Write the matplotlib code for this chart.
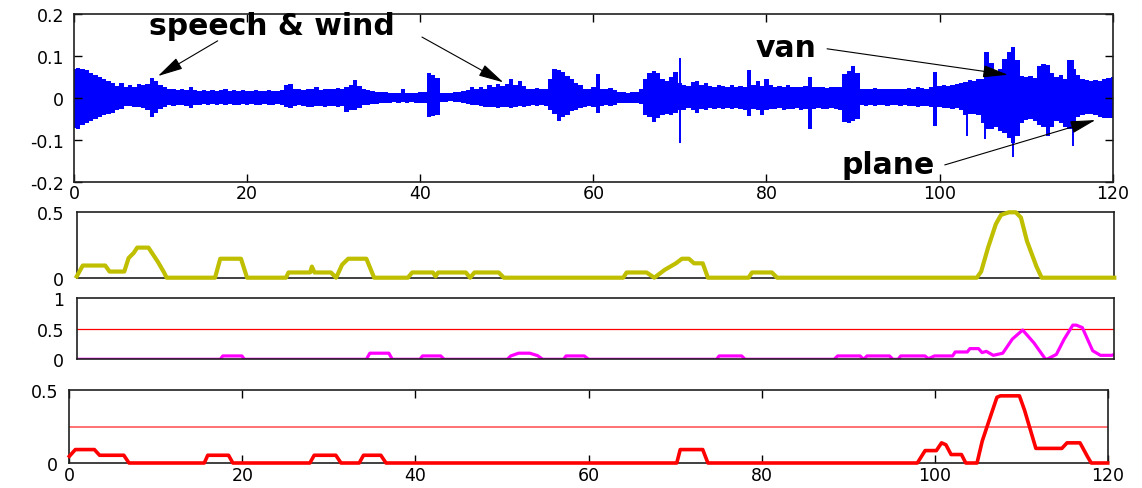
import numpy as np
import matplotlib
matplotlib.use("Agg")
import matplotlib.pyplot as plt

plt.rcParams['font.family'] = ['DejaVu Sans']
plt.rcParams['axes.unicode_minus'] = False

# ---------------- data ----------------
t_step = 0.5  # waveform envelope sampled every 0.5 s (0 .. 120)
wave_upper = [
    0.070, 0.072, 0.068, 0.066, 0.060, 0.055, 0.050, 0.045, 0.040, 0.035,
    0.028, 0.036, 0.025, 0.030, 0.027, 0.032, 0.030, 0.034, 0.048, 0.040,
    0.030, 0.025, 0.020, 0.022, 0.018, 0.020, 0.019, 0.027, 0.018, 0.017,
    0.018, 0.016, 0.019, 0.017, 0.018, 0.020, 0.016, 0.018, 0.017, 0.019,
    0.017, 0.016, 0.018, 0.017, 0.016, 0.018, 0.017, 0.016, 0.018, 0.030,
    0.033, 0.022, 0.020, 0.018, 0.022, 0.020, 0.025, 0.018, 0.020, 0.022,
    0.020, 0.024, 0.021, 0.026, 0.030, 0.042, 0.028, 0.022, 0.018, 0.016,
    0.015, 0.014, 0.013, 0.012, 0.011, 0.012, 0.020, 0.012, 0.011, 0.012,
    0.013, 0.014, 0.060, 0.055, 0.048, 0.012, 0.011, 0.012, 0.013, 0.014,
    0.016, 0.018, 0.026, 0.020, 0.027, 0.022, 0.030, 0.025, 0.033, 0.028,
    0.034, 0.046, 0.030, 0.040, 0.028, 0.022, 0.020, 0.024, 0.020, 0.022,
    0.045, 0.068, 0.066, 0.062, 0.052, 0.045, 0.035, 0.030, 0.022, 0.020,
    0.025, 0.056, 0.022, 0.020, 0.024, 0.018, 0.014, 0.013, 0.012, 0.013,
    0.014, 0.020, 0.045, 0.060, 0.064, 0.060, 0.045, 0.040, 0.050, 0.062,
    0.035, 0.030, 0.028, 0.037, 0.040, 0.030, 0.036, 0.028, 0.025, 0.030,
    0.028, 0.026, 0.030, 0.025, 0.028, 0.026, 0.067, 0.030, 0.040, 0.028,
    0.045, 0.030, 0.025, 0.028, 0.026, 0.030, 0.027, 0.026, 0.025, 0.028,
    0.049, 0.027, 0.025, 0.026, 0.024, 0.025, 0.027, 0.026, 0.058, 0.064,
    0.076, 0.060, 0.022, 0.021, 0.020, 0.024, 0.021, 0.020, 0.022, 0.021,
    0.020, 0.022, 0.021, 0.024, 0.022, 0.025, 0.023, 0.022, 0.026, 0.062,
    0.028, 0.030, 0.029, 0.030, 0.032, 0.035, 0.038, 0.042, 0.041, 0.044,
    0.045, 0.110, 0.084, 0.060, 0.070, 0.092, 0.110, 0.122, 0.090, 0.052,
    0.050, 0.051, 0.048, 0.075, 0.080, 0.078, 0.060, 0.050, 0.055, 0.045,
    0.090, 0.070, 0.055, 0.045, 0.042, 0.040, 0.043, 0.041, 0.045, 0.047,
    0.050,
]
wave_lower = [
    -0.071, -0.075, -0.065, -0.060, -0.055, -0.050, -0.045, -0.042, -0.038, -0.035,
    -0.030, -0.026, -0.020, -0.019, -0.021, -0.023, -0.024, -0.028, -0.045, -0.035,
    -0.027, -0.022, -0.018, -0.019, -0.018, -0.017, -0.019, -0.024, -0.017, -0.016,
    -0.015, -0.016, -0.015, -0.017, -0.015, -0.016, -0.015, -0.017, -0.016, -0.015,
    -0.016, -0.015, -0.017, -0.016, -0.015, -0.016, -0.017, -0.015, -0.016, -0.023,
    -0.025, -0.020, -0.018, -0.019, -0.022, -0.021, -0.019, -0.020, -0.022, -0.019,
    -0.020, -0.022, -0.020, -0.033, -0.030, -0.028, -0.024, -0.018, -0.016, -0.015,
    -0.014, -0.013, -0.012, -0.012, -0.011, -0.012, -0.011, -0.012, -0.011, -0.012,
    -0.012, -0.013, -0.045, -0.044, -0.040, -0.010, -0.009, -0.008, -0.010, -0.011,
    -0.012, -0.014, -0.016, -0.018, -0.020, -0.022, -0.023, -0.021, -0.024, -0.022,
    -0.023, -0.025, -0.022, -0.020, -0.021, -0.019, -0.018, -0.020, -0.018, -0.020,
    -0.030, -0.039, -0.055, -0.045, -0.040, -0.032, -0.028, -0.025, -0.022, -0.020,
    -0.022, -0.035, -0.020, -0.018, -0.020, -0.016, -0.013, -0.012, -0.013, -0.012,
    -0.013, -0.015, -0.040, -0.045, -0.057, -0.048, -0.042, -0.038, -0.040, -0.035,
    -0.030, -0.028, -0.025, -0.030, -0.035, -0.026, -0.028, -0.025, -0.027, -0.024,
    -0.026, -0.025, -0.027, -0.024, -0.026, -0.028, -0.043, -0.027, -0.030, -0.040,
    -0.028, -0.026, -0.027, -0.025, -0.028, -0.026, -0.027, -0.025, -0.028, -0.026,
    -0.075, -0.027, -0.025, -0.026, -0.027, -0.025, -0.026, -0.028, -0.058, -0.060,
    -0.055, -0.050, -0.018, -0.019, -0.018, -0.020, -0.018, -0.017, -0.019, -0.018,
    -0.018, -0.019, -0.018, -0.020, -0.019, -0.021, -0.020, -0.019, -0.022, -0.067,
    -0.023, -0.025, -0.024, -0.026, -0.025, -0.030, -0.040, -0.038, -0.039, -0.042,
    -0.060, -0.075, -0.075, -0.070, -0.080, -0.083, -0.095, -0.107, -0.090, -0.060,
    -0.052, -0.050, -0.055, -0.065, -0.070, -0.090, -0.070, -0.055, -0.060, -0.070,
    -0.075, -0.065, -0.045, -0.040, -0.038, -0.039, -0.042, -0.045, -0.047, -0.048,
    -0.048,
]
# isolated spikes in the waveform: time, min, max
spike_t = [70.0, 108.5, 103.2, 115.4, 85.2, 99.4, 105.3]
spike_lo = [-0.107, -0.142, -0.090, -0.115, -0.075, -0.067, -0.098]
spike_hi = [0.094, 0.122, 0.030, 0.090, 0.049, 0.062, 0.110]

wave_yticks = [-0.2, -0.1, 0, 0.1, 0.2]
wave_yticklabels = ['-0.2', '-0.1', '0', '0.1', '0.2']
x_ticks = [0, 20, 40, 60, 80, 100, 120]
x_ticklabels = ['0', '20', '40', '60', '80', '100', '120']

yel_x = [0, 0.7, 3.3, 3.8, 5.5, 6.0, 6.6, 7.0, 8.3, 8.8, 9.4, 10.1, 10.4, 16.0, 16.6, 19.0, 19.7,
         24.2, 24.5, 27.0, 27.2, 27.5, 29.4, 30.0, 30.7, 31.4, 33.5, 34.4, 38.3, 38.8, 41.2, 41.5,
         41.8, 45.0, 45.5, 46.0, 48.8, 49.4, 63.2, 63.6, 65.9, 66.8, 67.2, 68.0, 69.3, 70.0, 70.8,
         71.4, 72.4, 73.0, 77.7, 78.1, 80.4, 81.0, 104.1, 104.6, 105.4, 106.3, 106.9, 107.8, 108.6,
         109.2, 109.9, 111.0, 111.6, 120]
yel_y = [0.01, 0.093, 0.093, 0.047, 0.047, 0.15, 0.19, 0.23, 0.23, 0.18, 0.12, 0.04, 0, 0, 0.145, 0.145, 0,
         0, 0.04, 0.04, 0.085, 0.04, 0.04, 0, 0.10, 0.145, 0.145, 0, 0, 0.04, 0.04, 0.01,
         0.04, 0.04, 0, 0.04, 0.04, 0, 0, 0.04, 0.04, 0, 0.02, 0.06, 0.11, 0.145, 0.145,
         0.11, 0.11, 0, 0, 0.04, 0.04, 0, 0, 0.047, 0.23, 0.41, 0.48, 0.50, 0.50,
         0.46, 0.28, 0.085, 0, 0]

mag_x = [0, 16.6, 16.9, 19.1, 19.4, 33.5, 33.9, 36.1, 36.5, 39.7, 40.0, 42.1, 42.5, 49.8, 50.2, 51.1,
         52.4, 53.3, 53.9, 56.3, 56.6, 58.7, 59.2, 74.0, 74.3, 76.9, 77.3, 87.6, 88.0, 90.6, 91.0,
         91.4, 94.0, 94.4, 95.0, 95.3, 98.1, 98.5, 99.2, 101.3, 101.6, 103.0, 103.3, 104.3, 104.7,
         105.2, 106.0, 107.1, 108.2, 109.4, 110.7, 112.0, 112.2, 113.3, 114.2, 115.2, 115.6, 116.3,
         117.5, 118.4, 119.7, 120]
mag_y = [0, 0, 0.055, 0.055, 0, 0, 0.10, 0.10, 0, 0, 0.055, 0.055, 0, 0, 0.055, 0.10,
         0.10, 0.06, 0, 0, 0.055, 0.055, 0, 0, 0.055, 0.055, 0, 0, 0.055, 0.055, 0,
         0.055, 0.055, 0, 0, 0.055, 0.055, 0.01, 0.055, 0.055, 0.12, 0.12, 0.175, 0.175, 0.11,
         0.13, 0.065, 0.10, 0.33, 0.48, 0.27, 0.01, 0.0, 0.08, 0.33, 0.56, 0.56, 0.52,
         0.14, 0.065, 0.065, 0.08]
mag_threshold = 0.5

red_x = [0, 0.7, 2.9, 3.5, 6.3, 6.9, 15.6, 16.0, 18.4, 18.9, 27.8, 28.3, 30.8, 31.4, 33.5, 34.0,
         36.0, 36.6, 70.2, 70.6, 73.2, 73.8, 98.0, 98.9, 100.2, 100.8, 101.3, 101.9, 103.1, 103.6,
         104.9, 105.5, 106.4, 107.2, 107.6, 109.8, 110.4, 111.1, 111.7, 114.7, 115.3, 116.8, 117.7,
         118.1, 120]
red_y = [0.046, 0.092, 0.092, 0.053, 0.053, 0, 0, 0.053, 0.053, 0, 0, 0.053, 0.053, 0, 0, 0.053,
         0.053, 0, 0, 0.092, 0.092, 0, 0, 0.085, 0.085, 0.138, 0.125, 0.058, 0.058, 0,
         0, 0.15, 0.31, 0.45, 0.46, 0.46, 0.36, 0.22, 0.10, 0.10, 0.138, 0.138, 0.04,
         0, 0]
red_threshold = 0.25

annotations = [
    # text, text position, arrow start, arrow tip
    ('speech & wind', (22.9, 0.172), (16.6, 0.136), (9.7, 0.052)),
    ('', None, (40.2, 0.145), (49.6, 0.037)),
    ('van', (82.3, 0.119), (87.0, 0.117), (107.9, 0.055)),
    ('plane', (94.0, -0.160), (100.6, -0.160), (118.0, -0.053)),
]

# ---------------- figure ----------------
W, H = 1142, 489
fig = plt.figure(figsize=(W / 100, H / 100), dpi=100)


def box(l, t, r, b):
    return [l / W, 1 - b / H, (r - l) / W, (b - t) / H]


ax1 = fig.add_axes(box(74, 15, 1112.7, 182.7))
ax2 = fig.add_axes(box(76.7, 213.3, 1114.3, 278.7))
ax3 = fig.add_axes(box(76.7, 299.3, 1114.3, 360.3))
ax4 = fig.add_axes(box(69.3, 391, 1107.7, 464))

tick_font = 12.5

for ax in (ax1, ax2, ax3, ax4):
    ax.set_xlim(0, 120)
    for s in ax.spines.values():
        s.set_linewidth(1.2)
        s.set_color('#202020')

# panel 1 : waveform
t = np.arange(len(wave_upper)) * t_step
ax1.fill_between(t, wave_lower, wave_upper, step='mid', color='#0000ff', lw=0)
ax1.vlines(spike_t, spike_lo, spike_hi, color='#0000ff', lw=1.4)
ax1.set_ylim(-0.2, 0.2)
ax1.set_yticks(wave_yticks)
ax1.set_yticklabels(wave_yticklabels)
ax1.set_xticks(x_ticks)
ax1.set_xticklabels(x_ticklabels)
ax1.tick_params(direction='in', length=6, width=1, top=True, right=True,
                labelsize=tick_font, pad=2)
ax1.tick_params(axis='y', pad=7)

for txt, tpos, start, tip in annotations:
    if txt:
        ax1.text(tpos[0], tpos[1], txt, fontsize=21.5, fontweight='bold',
                 ha='center', va='center', color='black')
    ax1.annotate('', xy=tip, xytext=start,
                 arrowprops=dict(arrowstyle='-|>,head_length=1.3,head_width=0.32',
                                 color='black', lw=0.8, mutation_scale=12,
                                 shrinkA=0, shrinkB=0))

# panel 2 : yellow
ax2.plot(yel_x, yel_y, color='#bfbf00', lw=3, clip_on=False, zorder=3)
ax2.set_ylim(0, 0.5)
ax2.set_yticks([0, 0.5])
ax2.set_yticklabels(['0', '0.5'])
ax2.set_xticks([])
ax2.tick_params(axis='y', direction='in', length=0, labelsize=tick_font, pad=9)

# panel 3 : magenta
ax3.axhline(mag_threshold, color='#ff0000', lw=0.9)
ax3.plot(mag_x, mag_y, color='#ff00ff', lw=2.3)
ax3.set_ylim(0, 1)
ax3.set_yticks([0, 0.5, 1])
ax3.set_yticklabels(['0', '0.5', '1'])
ax3.set_xticks([])
ax3.tick_params(axis='y', direction='in', length=0, labelsize=tick_font, pad=9)

# panel 4 : red
ax4.axhline(red_threshold, color='#ff5a5a', lw=1.2)
ax4.plot(red_x, red_y, color='#ff0000', lw=2.6, clip_on=False, zorder=3)
ax4.set_ylim(0, 0.5)
ax4.set_yticks([0, 0.5])
ax4.set_yticklabels(['0', '0.5'])
ax4.set_xticks(x_ticks)
ax4.set_xticklabels(x_ticklabels)
ax4.tick_params(axis='x', direction='in', length=6, width=1, top=True,
                labelsize=tick_font, pad=2)
ax4.tick_params(axis='y', direction='in', length=0, labelsize=tick_font, pad=8)

fig.savefig('out.png', dpi=100)
